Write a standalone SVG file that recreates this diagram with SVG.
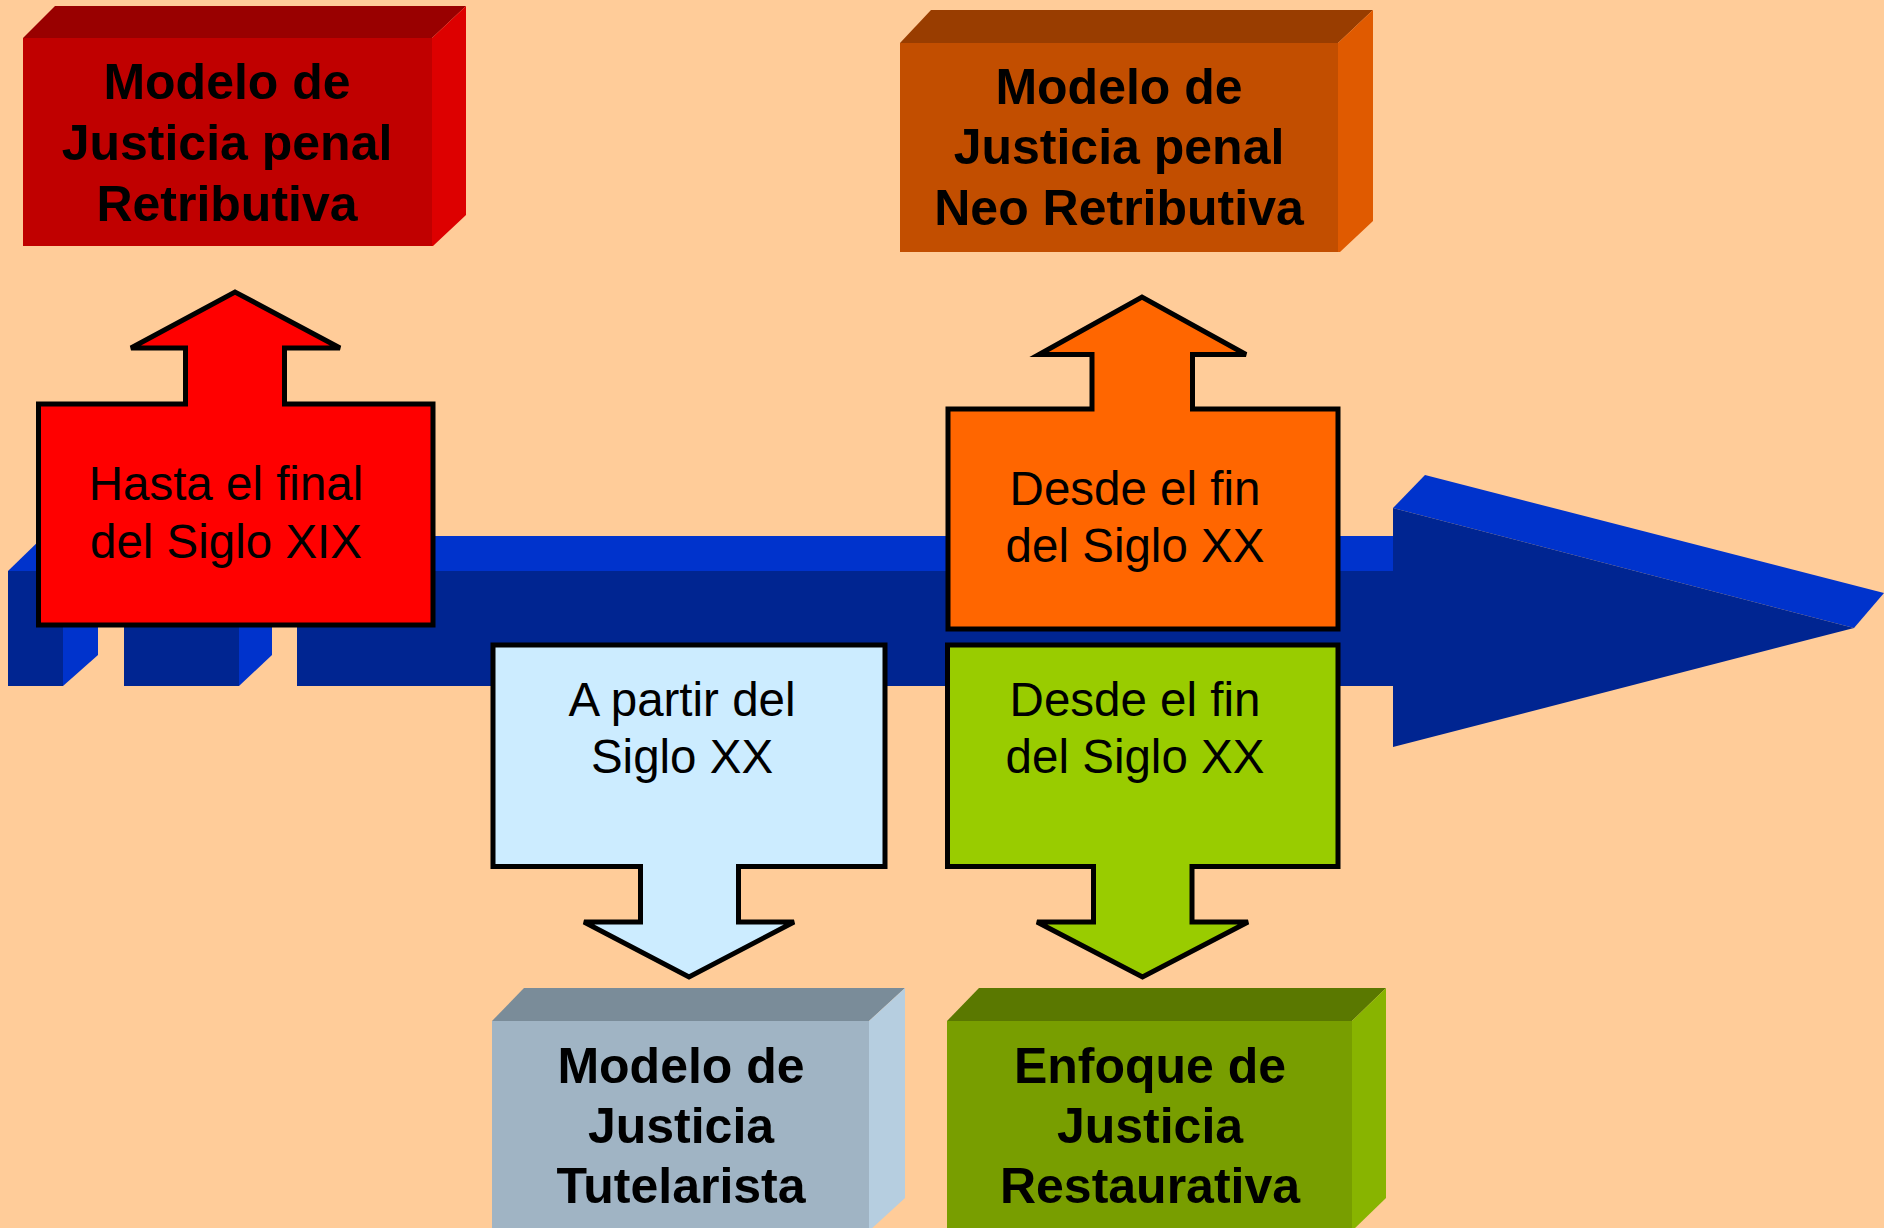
<svg xmlns="http://www.w3.org/2000/svg" width="1884" height="1228" viewBox="0 0 1884 1228">
<style>
.bt{font-family:"Liberation Sans",Arial,sans-serif;font-weight:bold;font-size:50px;fill:#000;text-anchor:middle}
.nt{font-family:"Liberation Sans",Arial,sans-serif;font-size:47.5px;fill:#000;text-anchor:middle}
.co{stroke:#000;stroke-width:5;stroke-linejoin:miter}
.bd{fill:#002591}
.bl{fill:#0033CC}
</style>
<rect x="0" y="0" width="1884" height="1228" fill="#FFCC99"/>

<g id="timeline">
  <polygon class="bl" points="8,571 44,536 1393,536 1393,571"/>
  <rect class="bd" x="8" y="571" width="55" height="115"/>
  <polygon class="bl" points="63,571 98,540 98,655 63,686"/>
  <rect class="bd" x="124" y="571" width="115" height="115"/>
  <polygon class="bl" points="239,571 272,540 272,655 239,686"/>
  <rect class="bd" x="297" y="571" width="1096" height="115"/>
  <polygon class="bl" points="1393,508 1425,475 1884,593 1854,628"/>
  <polygon class="bd" points="1393,508 1854,628 1393,747"/>
</g>

<g id="box-retributiva">
  <polygon fill="#990000" points="23,38 55,6 466,6 432,38"/>
  <polygon fill="#DD0000" points="432,38 466,6 466,215 433,246 432,246"/>
  <rect fill="#C00000" x="23" y="38" width="409" height="208"/>
  <text class="bt" x="227" y="99">Modelo de</text>
  <text class="bt" x="227" y="160">Justicia penal</text>
  <text class="bt" x="227" y="221">Retributiva</text>
</g>

<g id="box-neoretributiva">
  <polygon fill="#993D00" points="900,43 931,10 1373,10 1338,43"/>
  <polygon fill="#E05A00" points="1338,43 1373,10 1373,221 1340,252 1338,252"/>
  <rect fill="#C24E00" x="900" y="43" width="438" height="209"/>
  <text class="bt" x="1119" y="103.5">Modelo de</text>
  <text class="bt" x="1119" y="164">Justicia penal</text>
  <text class="bt" x="1119" y="224.5">Neo Retributiva</text>
</g>

<g id="box-tutelarista">
  <polygon fill="#7A8C99" points="492,1021 524,988 905,988 869,1021"/>
  <polygon fill="#B6CEE0" points="869,1021 905,988 905,1198 869,1231"/>
  <rect fill="#A0B4C4" x="492" y="1021" width="377" height="220"/>
  <text class="bt" x="681" y="1083">Modelo de</text>
  <text class="bt" x="681" y="1143">Justicia</text>
  <text class="bt" x="681" y="1203">Tutelarista</text>
</g>

<g id="box-restaurativa">
  <polygon fill="#5A7800" points="947,1021 979,988 1386,988 1352,1021"/>
  <polygon fill="#88B400" points="1352,1021 1386,988 1386,1198 1352,1231"/>
  <rect fill="#789E00" x="947" y="1021" width="405" height="220"/>
  <text class="bt" x="1150" y="1083">Enfoque de</text>
  <text class="bt" x="1150" y="1143">Justicia</text>
  <text class="bt" x="1150" y="1203">Restaurativa</text>
</g>

<g id="connectors">
  <g id="callout-xix">
    <polygon class="co" fill="#FF0000" points="38.5,404 185.5,404 185.5,348 131,348 235,292 340,348 284.5,348 284.5,404 433,404 433,625 38.5,625"/>
    <text class="nt" x="226" y="500">Hasta el final</text>
    <text class="nt" x="226" y="558">del Siglo XIX</text>
  </g>
  <g id="callout-neo">
    <polygon class="co" fill="#FF6600" points="948,409 1092,409 1092,354.5 1039,354.5 1142,297 1246,354.5 1192.5,354.5 1192.5,409 1338,409 1338,629 948,629"/>
    <text class="nt" x="1135" y="505">Desde el fin</text>
    <text class="nt" x="1135" y="562">del Siglo XX</text>
  </g>
  <g id="callout-tutelar">
    <polygon class="co" fill="#CCECFF" points="493,645 885,645 885,866.5 738.5,866.5 738.5,922 794,922 689,977 584,922 640.5,922 640.5,866.5 493,866.5"/>
    <text class="nt" x="682" y="716">A partir del</text>
    <text class="nt" x="682" y="773">Siglo XX</text>
  </g>
  <g id="callout-restaur">
    <polygon class="co" fill="#99CC00" points="947.5,645 1338,645 1338,866.5 1192,866.5 1192,922 1248,922 1142.5,977 1037,922 1093.5,922 1093.5,866.5 947.5,866.5"/>
    <text class="nt" x="1135" y="716">Desde el fin</text>
    <text class="nt" x="1135" y="773">del Siglo XX</text>
  </g>
</g>
</svg>
